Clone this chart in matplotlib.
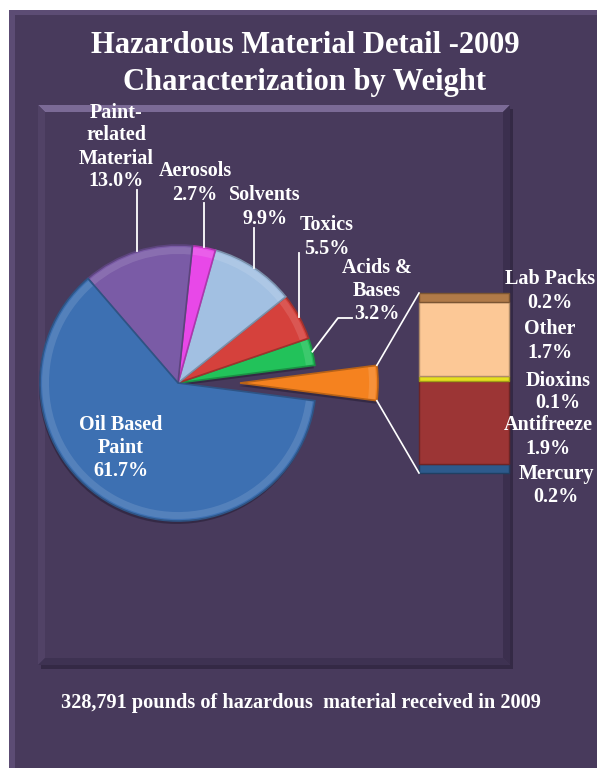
import numpy as np
import matplotlib

matplotlib.use("Agg")
import matplotlib.pyplot as plt
from matplotlib.patches import Polygon, Rectangle, Wedge

# pie data (percent of total weight)
pie_labels = ["Other group", "Acids &\nBases", "Toxics", "Solvents", "Aerosols",
              "Paint-\nrelated\nMaterial", "Oil Based\nPaint"]
pie_values = [4.1, 3.2, 5.5, 9.9, 2.7, 13.0, 61.7]
pie_colors = ["#f5821f", "#22c25a", "#d5413c", "#a2c0e2", "#e848e8", "#7a5ba6", "#3d70b2"]

# breakdown of the "other" slice, bottom to top
bar_labels = ["Mercury", "Antifreeze", "Dioxins", "Other", "Lab Packs"]
bar_values = [0.2, 1.9, 0.1, 1.7, 0.2]
bar_colors = ["#2d5a8c", "#9c3535", "#e6e020", "#fcc896", "#b07a48"]

title = "Hazardous Material Detail -2009\nCharacterization by Weight"
footer = "328,791 pounds of hazardous  material received in 2009"

W, H = 597, 768
BG = "#483a5c"
FONT = ["Liberation Serif", "DejaVu Serif"]


def Y(y_img):
    return H - y_img


def shade(c, k, add=0.0):
    return tuple(np.clip(np.array(matplotlib.colors.to_rgb(c)) * k + add, 0, 1))


fig = plt.figure(figsize=(W / 100, H / 100), dpi=100, facecolor="white")
ax = fig.add_axes([0, 0, 1, 1])

# outer panel with a light bevel on top and left
ax.add_patch(Rectangle((9, 0), W - 9, Y(10), facecolor=BG, edgecolor="none"))
ax.add_patch(Polygon([(9, Y(10)), (W, Y(10)), (W, Y(15)), (15, Y(15)), (15, 0), (9, 0)],
                     facecolor="#5c4c74", edgecolor="none"))

# inner panel: shadow, bevel highlight on top
x0, x1, yt, yb = 38, 510, Y(105), Y(665)
ax.add_patch(Rectangle((x0 + 3, yb - 4), x1 - x0, yt - yb, facecolor="#2f2540",
                       edgecolor="none", alpha=0.8))
ax.add_patch(Rectangle((x0, yb), x1 - x0, yt - yb, facecolor=BG, edgecolor="none"))
ax.add_patch(Polygon([(x0, yt), (x1, yt), (x1 - 7, yt - 7), (x0 + 7, yt - 7)],
                     facecolor="#7b6a96", edgecolor="none"))
ax.add_patch(Polygon([(x0, yt), (x0 + 7, yt - 7), (x0 + 7, yb + 7), (x0, yb)],
                     facecolor="#514266", edgecolor="none"))
ax.add_patch(Polygon([(x1, yt), (x1 - 7, yt - 7), (x1 - 7, yb + 7), (x1, yb)],
                     facecolor="#3b2f4e", edgecolor="none"))
ax.add_patch(Polygon([(x0, yb), (x0 + 7, yb + 7), (x1 - 7, yb + 7), (x1, yb)],
                     facecolor="#3e3252", edgecolor="none"))

# pie
center = (178, Y(383))
radius = 138
explode = [62, 0, 0, 0, 0, 0, 0]
start = -pie_values[0] / sum(pie_values) * 180

# soft drop shadow
ax.pie(pie_values, explode=explode, startangle=start, counterclock=True,
       radius=radius, center=(center[0] - 1, center[1] - 3),
       colors=["#221a30"] * len(pie_values), wedgeprops=dict(linewidth=0, alpha=0.5))
wedges, _ = ax.pie(pie_values, explode=explode, startangle=start, counterclock=True,
                   radius=radius, center=center, colors=pie_colors,
                   wedgeprops=dict(linewidth=1.2))
for w, c in zip(wedges, pie_colors):
    w.set_edgecolor(shade(c, 0.75))
    # light rim to hint at the bevelled look
    ax.add_patch(Wedge(w.center, w.r * 0.985, w.theta1 + 0.5, w.theta2 - 0.5,
                       width=w.r * 0.05, facecolor=shade(c, 0.6, 0.4),
                       edgecolor="none", alpha=0.3))

txt = dict(color="white", fontweight="bold", family=FONT, ha="center", va="center")
LAB_FS, LAB_LS = 14.5, 1.2

# labels for the pie slices
lab_pos = {2: (327, 237), 3: (265, 207), 4: (195, 183), 5: (116, 147), 6: (121, 448)}
line_top = {2: 253, 3: 228, 4: 203, 5: 190}
for i, (xl, yl) in lab_pos.items():
    ax.text(xl, Y(yl), f"{pie_labels[i]}\n{pie_values[i]:.1f}%", fontsize=LAB_FS,
            linespacing=LAB_LS, **txt)
for i, ytop in line_top.items():
    w = wedges[i]
    th = np.deg2rad((w.theta1 + w.theta2) / 2)
    px = w.center[0] + w.r * np.cos(th)
    py = w.center[1] + w.r * np.sin(th)
    ax.plot([px, px], [py, Y(ytop)], color="white", lw=1.3)

# acids & bases with an elbow leader
ax.text(377, Y(291), f"{pie_labels[1]}\n{pie_values[1]:.1f}%", fontsize=LAB_FS,
        linespacing=LAB_LS, **txt)
w = wedges[1]
th = np.deg2rad((w.theta1 + w.theta2) / 2)
px = w.center[0] + w.r * np.cos(th)
py = w.center[1] + w.r * np.sin(th)
ax.plot([px, 338, 352], [py, Y(318), Y(318)], color="white", lw=1.3)

# stacked bar of the exploded slice
bar_x, bar_w = 464, 90
bar_bottom = Y(473)
scale = 180 / sum(bar_values)
heights = np.array(bar_values) * scale
bottoms = bar_bottom + np.concatenate([[0], np.cumsum(heights)[:-1]])
bars = ax.bar([bar_x] * len(bar_values), heights, bottom=bottoms, width=bar_w,
              color=bar_colors, linewidth=1.0)
for b, c in zip(bars, bar_colors):
    b.set_edgecolor(shade(c, 0.7))

# connector lines from the exploded slice to the bar
ow = wedges[0]
bar_left = bar_x - bar_w / 2
bar_top = bar_bottom + heights.sum()
for ang, ytarget in [(ow.theta2, bar_top), (ow.theta1, bar_bottom)]:
    t = np.deg2rad(ang)
    cx = ow.center[0] + ow.r * np.cos(t)
    cy = ow.center[1] + ow.r * np.sin(t)
    ax.plot([cx, bar_left], [cy, ytarget], color="white", lw=1.2)

# labels for the bar segments
bar_lab_pos = [(556, 486), (548, 437), (558, 392), (550, 341), (550, 291)]
for lab, v, (xl, yl) in zip(bar_labels, bar_values, bar_lab_pos):
    ax.text(xl, Y(yl), f"{lab}\n{v:.1f}%", fontsize=LAB_FS, linespacing=LAB_LS, **txt)

# title and footer
ax.text(305, Y(64), title, fontsize=22, linespacing=1.36, **txt)
ax.text(301, Y(703), footer, fontsize=14.6, **txt)

ax.set_xlim(0, W)
ax.set_ylim(0, H)
ax.set_aspect("auto")
ax.axis("off")
fig.savefig("out.png", dpi=100, facecolor="white")
